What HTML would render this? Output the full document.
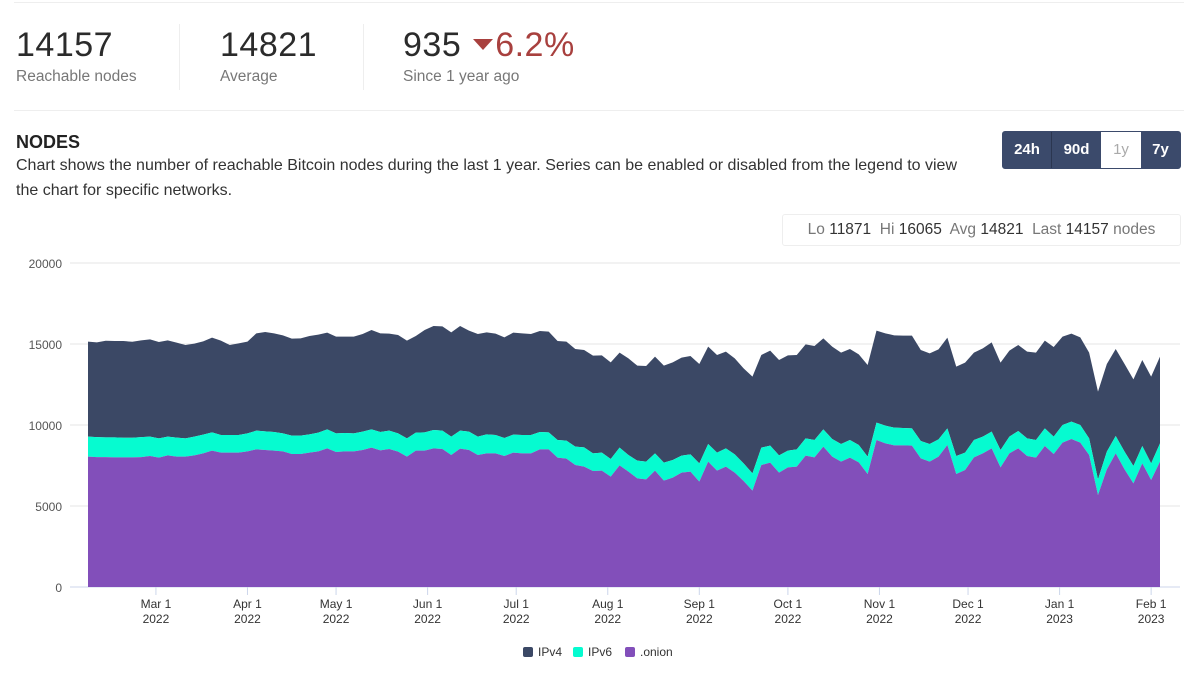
<!DOCTYPE html>
<html><head><meta charset="utf-8">
<style>
body{margin:0;width:1200px;height:676px;background:#fff;font-family:"Liberation Sans",sans-serif;color:#333;position:relative;overflow:hidden}
.abs{position:absolute}
.big{font-size:34px;color:#2b2b2b;letter-spacing:0.5px;line-height:40px}
.lbl{font-size:15.5px;color:#777;margin-top:3px}
.btn{position:absolute;top:132px;height:36px;line-height:36px;text-align:center;font-weight:bold;font-size:15px;color:#fff;background:#3b4a6b}
</style></head><body>
<div class="abs" style="left:14px;top:2px;width:1170px;height:1px;background:#eee"></div>
<div class="abs" style="left:16px;top:25px">
 <div class="big">14157</div>
 <div class="lbl">Reachable nodes</div></div>
<div class="abs" style="left:179px;top:24px;width:1px;height:66px;background:#eee"></div>
<div class="abs" style="left:220px;top:25px">
 <div class="big">14821</div>
 <div class="lbl">Average</div></div>
<div class="abs" style="left:363px;top:24px;width:1px;height:66px;background:#eee"></div>
<div class="abs" style="left:403px;top:25px">
 <div class="big">935 <span style="display:inline-block;width:0;height:0;border-left:10px solid transparent;border-right:10px solid transparent;border-top:11px solid #a8403e;vertical-align:middle;margin:0 2px 6px 2px"></span><span style="color:#a8403e">6.2%</span></div>
 <div class="lbl">Since 1 year ago</div></div>
<div class="abs" style="left:14px;top:110px;width:1170px;height:1px;background:#eee"></div>
<div class="abs" style="left:16px;top:132px;font-size:18px;font-weight:bold;color:#222">NODES</div>
<div class="abs" style="left:16px;top:153px;width:960px;font-size:16px;line-height:25px;color:#333">Chart shows the number of reachable Bitcoin nodes during the last 1 year. Series can be enabled or disabled from the legend to view the chart for specific networks.</div>
<div class="abs" style="left:1002px;top:131px;width:179px;height:38px;border:1px solid #3b4a6b;border-radius:3px;box-sizing:border-box"></div>
<div class="btn" style="left:1003px;width:48px;border-right:1px solid #2b3650">24h</div>
<div class="btn" style="left:1052px;width:49px">90d</div>
<div class="btn" style="left:1101px;width:40px;background:#fff;color:#aaa;font-weight:normal">1y</div>
<div class="btn" style="left:1141px;width:39px">7y</div>
<div class="abs" style="left:782px;top:214px;width:399px;height:32px;border:1px solid #eee;border-radius:3px;box-sizing:border-box;font-size:15.5px;line-height:30px;text-align:center;color:#777">Lo <span style="color:#333">11871</span>&nbsp; Hi <span style="color:#333">16065</span>&nbsp; Avg <span style="color:#333">14821</span>&nbsp; Last <span style="color:#333">14157</span> nodes</div>
<svg id="chart" class="abs" style="left:0;top:0" width="1200" height="676"></svg>
<script>
const startDate=new Date(2022,1,6), endDate=new Date(2023,1,4);
const yTicks=[0,5000,10000,15000,20000];
const monthLabels=["Mar 1","Apr 1","May 1","Jun 1","Jul 1","Aug 1","Sep 1","Oct 1","Nov 1","Dec 1","Jan 1","Feb 1"];
const monthYears=["2022","2022","2022","2022","2022","2022","2022","2022","2022","2022","2023","2023"];
const seriesNames=["IPv4","IPv6",".onion"];
const onion=[8045,8020,8020,8000,8000,8000,8020,8086,7983,8127,8045,8045,8127,8251,8416,8292,8292,8292,8374,8498,8457,8416,8374,8210,8210,8292,8374,8559,8333,8374,8374,8457,8601,8436,8518,8354,8045,8416,8416,8559,8518,8148,8539,8457,8148,8251,8251,8086,8292,8251,8251,8498,8498,7983,7922,7531,7428,7160,7181,6810,7510,7119,
6708,6646,7181,6563,6749,7057,7119,6502,7737,7181,7428,7057,6543,5946,7531,7675,7057,7387,7428,8107,8004,8663,8045,7737,7984,7695,6975,9074,8868,8745,8745,8724,7942,7737,8045,8766,6975,7222,8004,8251,8559,7387,8251,8559,8086,7984,8704,8210,8909,9136,8909,8148,5679,7263,8251,7263,6399,7634,6605,7737];
const ipv6=[1235,1235,1214,1235,1214,1214,1235,1194,1194,1152,1173,1132,1152,1152,1132,1091,1091,1091,1111,1152,1152,1152,1111,1132,1132,1132,1152,1173,1152,1132,1111,1132,1132,1132,1132,1132,1132,1111,1132,1132,1132,1132,1111,1132,1132,1173,1132,1111,1111,1132,1132,1070,1049,1091,1111,1132,1194,1091,1111,1091,1091,1029,
1091,1091,1070,1111,1091,1049,1070,1132,1091,1111,1132,1132,1091,1070,1070,1049,1070,1029,1070,1070,1070,1070,1091,1091,1091,1070,1070,1070,1091,1091,1070,1070,1070,1091,1070,1029,1111,1070,1070,1029,1029,1070,1029,1070,1091,1091,1091,1070,1091,1070,1091,1029,967,1091,1070,1091,1070,1070,1029,1132];
const ipv4=[5865,5845,5968,5947,5968,5927,5968,6009,5947,5947,5865,5762,5741,5762,5844,5824,5556,5659,5659,6009,6132,6091,6050,5988,6009,6071,6050,5968,5968,5947,5968,6029,6132,6091,5988,6071,6029,5968,6317,6420,6441,6441,6461,6235,6338,6297,6256,6214,6297,6276,6235,6235,6214,6111,6111,6029,6009,6029,6009,5968,5864,5968,
5864,5906,5968,5988,6029,6050,6071,6132,6009,6029,5968,5927,5864,5968,5721,5864,5885,5885,5823,5803,5803,5618,5700,5638,5618,5597,5659,5679,5700,5700,5700,5721,5618,5597,5556,5597,5515,5556,5391,5453,5515,5391,5309,5309,5350,5391,5412,5535,5453,5432,5412,5288,5412,5412,5371,5412,5350,5309,5350,5350];
const svg=document.getElementById('chart');const NS='http://www.w3.org/2000/svg';
const X0=88,X1=1160,Y0=587,Y1=263;
const xT=d=>X0+(d-startDate)/(endDate-startDate)*(X1-X0);
const y=v=>Y0-v/20000*(Y0-Y1);
const n=onion.length;
const xi=i=>X0+i/(n-1)*(X1-X0);
function mk(t,a){const e=document.createElementNS(NS,t);for(const k in a)e.setAttribute(k,a[k]);svg.appendChild(e);return e;}
yTicks.forEach((v,i)=>{
 const g=mk('line',{x1:70,x2:1180,y1:y(v),y2:y(v),stroke:v===0?'#ccd6eb':'#e6e6e6','stroke-width':1});
 
 
 const t=mk('text',{x:62,y:y(v)+5,'text-anchor':'end','font-size':12,fill:'#555','font-family':'Liberation Sans, sans-serif'});
 t.textContent=v;
 
 
});
const s1=onion, s2=onion.map((v,i)=>v+ipv6[i]), s3=s2.map((v,i)=>v+ipv4[i]);
function area(top,bot,color,name){
 let d='M'+xi(0)+','+y(top[0]);
 for(let i=1;i<n;i++)d+='L'+xi(i)+','+y(top[i]);
 for(let i=n-1;i>=0;i--)d+='L'+xi(i)+','+y(bot?bot[i]:0);
 const p=mk('path',{d:d+'Z',fill:color});
 
 
}
area(s3,s2,'#3b4865','ipv4-area');
area(s2,s1,'#06fbd0','ipv6-area');
area(s1,null,'#824fba','onion-area');
monthLabels.forEach((m,i)=>{
 const yr=parseInt(monthYears[i]);const mo=(i+2)%12;
 const x=xT(new Date(yr,mo,1));
 const tk=mk('line',{x1:x,x2:x,y1:Y0,y2:Y0+8,stroke:'#ccd6eb'});
 
 
 const t=mk('text',{x:x,y:608,'text-anchor':'middle','font-size':12,fill:'#333','font-family':'Liberation Sans, sans-serif'});
 t.textContent=m;
 
 
 const t2=mk('text',{x:x,y:623,'text-anchor':'middle','font-size':12,fill:'#333','font-family':'Liberation Sans, sans-serif'});
 t2.textContent=monthYears[i];
 
 
});
const lcol=['#3b4865','#06fbd0','#824fba'];const lx=[523,573,625];
seriesNames.forEach((s,i)=>{
 const r=mk('rect',{x:lx[i],y:647,width:10,height:10,rx:2,fill:lcol[i]});
 
 
 const t=mk('text',{x:lx[i]+15,y:656,'font-size':12,fill:'#333','font-family':'Liberation Sans, sans-serif'});
 t.textContent=s;
 
 
});
</script>
</body></html>
